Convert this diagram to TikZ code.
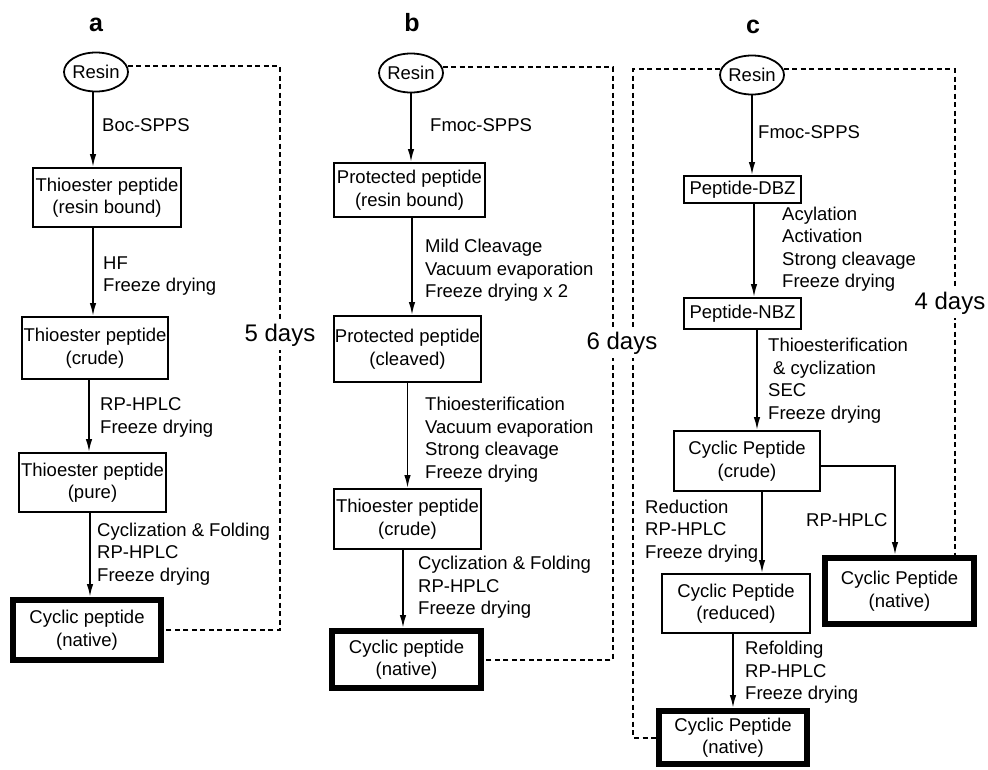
\documentclass[tikz,border=0pt]{standalone}
\usepackage{fontspec}
\setmainfont{Liberation Sans}
\usetikzlibrary{shapes.geometric, arrows.meta, positioning, calc}

\begin{document}
\begin{tikzpicture}[
    x=1pt, y=-1pt,
    font=\fontsize{18.5}{22.5}\selectfont,
    box/.style={rectangle, draw, line width=1.8pt, inner sep=0pt, align=center},
    endbox/.style={box, line width=6pt},
    resin/.style={ellipse, draw, line width=1.8pt, inner sep=0pt, minimum width=64pt, minimum height=39pt},
    note/.style={anchor=west, align=left, inner sep=0pt},
    panel/.style={font=\fontsize{25}{30}\selectfont\bfseries},
    days/.style={fill=white, inner sep=4pt, font=\fontsize{24}{28}\selectfont},
    flow/.style={-{Latex[length=13pt,width=6.5pt]}, line width=1.8pt},
    link/.style={line width=2pt, dash pattern=on 5pt off 3.5pt}
]
\useasboundingbox (0,0) rectangle (988,769);

% Panel a: Boc route
\node[panel] (labA) at (96,25) {a};
\node[resin] (resinA) at (96,72) {\makebox[30pt]{Resin}};
\node[box, minimum width=148pt, minimum height=59pt] (thioA) at (107,197.5) {Thioester peptide\\(resin bound)};
\node[box, minimum width=146pt, minimum height=62pt] (crudeA) at (95,348) {Thioester peptide\\(crude)};
\node[box, minimum width=147pt, minimum height=59pt] (pureA) at (92.5,482.5) {Thioester peptide\\(pure)};
\node[endbox, minimum width=148pt, minimum height=60pt] (nativeA) at (87,630) {Cyclic peptide\\(native)};

\node[note] (stepA1) at (102,125) {Boc-SPPS};
\node[note] (stepA2) at (103,276) {HF\\Freeze drying};
\node[note] (stepA3) at (100,417.5) {RP-HPLC\\Freeze drying};
\node[note] (stepA4) at (97,554) {Cyclization \& Folding\\RP-HPLC\\Freeze drying};

\draw[flow] ([xshift=-3pt]resinA.south) -- ([xshift=-3pt]resinA.south |- thioA.north);
\draw[flow] ([xshift=-2pt]thioA.south -| crudeA.north) -- ([xshift=-2pt]crudeA.north);
\draw[flow] ([xshift=-3.5pt]crudeA.south -| pureA.north) -- ([xshift=-3.5pt]pureA.north);
\draw[flow] ([xshift=3pt]pureA.south -| nativeA.north) -- ([xshift=3pt]nativeA.north);

\coordinate (cornA) at (280,630);
\draw[link] (resinA.10) -| (cornA) |- (nativeA.east);
\node[days] (daysA) at (280,335) {5 days};

% Panel b: Fmoc route
\node[panel] (labB) at (412,23) {b};
\node[resin] (resinB) at (411,73) {\makebox[30pt]{Resin}};
\node[box, minimum width=151pt, minimum height=54pt] (protB) at (409.5,190) {Protected peptide\\(resin bound)};
\node[box, minimum width=147pt, minimum height=66pt] (cleavB) at (407.5,349) {Protected peptide\\(cleaved)};
\node[box, minimum width=147pt, minimum height=60pt] (thioB) at (407.5,519) {Thioester peptide\\(crude)};
\node[endbox, minimum width=149pt, minimum height=57pt] (nativeB) at (406.5,659.5) {Cyclic peptide\\(native)};

\node[note] (stepB1) at (430,125) {Fmoc-SPPS};
\node[note] (stepB2) at (425,270.5) {Mild Cleavage\\Vacuum evaporation\\Freeze drying x 2};
\node[note] (stepB3) at (425,439.5) {Thioesterification\\Vacuum evaporation\\Strong cleavage\\Freeze drying};
\node[note] (stepB4) at (418,587.5) {Cyclization \& Folding\\RP-HPLC\\Freeze drying};

\draw[flow] (resinB) -- (resinB |- protB.north);
\draw[flow] ([xshift=4.5pt]protB.south -| cleavB.north) -- ([xshift=4.5pt]cleavB.north);
\draw[flow] (cleavB.south -| thioB.north) -- (thioB.north);
\draw[flow] ([xshift=-3.5pt]thioB.south -| nativeB.north) -- ([xshift=-3.5pt]nativeB.north);

\coordinate (cornB) at (613,600);
\draw[link] (resinB.10) -| (cornB) |- (nativeB.east);

% Panel c: Dbz route
\node[panel] (labC) at (753,27) {c};
\node[resin] (resinC) at (752,75) {\makebox[30pt]{Resin}};
\node[box, minimum width=117pt, minimum height=27pt] (dbzC) at (742.5,189.5) {Peptide-DBZ};
\node[box, minimum width=117pt, minimum height=31pt] (nbzC) at (742.5,313.5) {Peptide-NBZ};
\node[box, minimum width=146pt, minimum height=60pt] (crudeC) at (747,461) {Cyclic Peptide\\(crude)};
\node[box, minimum width=148pt, minimum height=59pt] (redC) at (736,603.5) {Cyclic Peptide\\(reduced)};
\node[endbox, minimum width=149pt, minimum height=66pt] (nativeC) at (899.5,591) {Cyclic Peptide\\(native)};
\node[endbox, minimum width=148pt, minimum height=53pt] (foldC) at (733,737.5) {Cyclic Peptide\\(native)};

\node[note] (stepC1) at (758,132) {Fmoc-SPPS};
\node[note] (stepC2) at (782,249) {Acylation\\Activation\\Strong cleavage\\Freeze drying};
\node[note] (stepC3) at (768,380.5) {Thioesterification\\\hspace*{5pt}\& cyclization\\SEC\\Freeze drying};
\node[note] (stepC4) at (645,531) {Reduction\\RP-HPLC\\Freeze drying};
\node[note] (stepC5) at (806,520) {RP-HPLC};
\node[note] (stepC6) at (745,672.5) {Refolding\\RP-HPLC\\Freeze drying};

\draw[flow] (resinC) -- (resinC |- dbzC.north);
\draw[flow] ([xshift=11.5pt]dbzC.south) -- ([xshift=11.5pt]nbzC.north);
\draw[flow] ([xshift=10pt]nbzC.south -| crudeC.north) -- ([xshift=10pt]crudeC.north);
\draw[flow] ([xshift=26pt]crudeC.south -| redC.north) -- ([xshift=26pt]redC.north);
\draw[flow] (redC.south -| foldC.north) -- (foldC.north);
\draw[flow] ([yshift=-5pt]crudeC.east) -| ([xshift=-4.5pt]nativeC.north);

\coordinate (cornC) at (633,400);
\coordinate (dropC) at (955,555);
\draw[link] (resinC.170) -| (cornC) |- (foldC.west);
\draw[link] (resinC.10) -| (dropC);

\node[days] (daysB) at (622,343) {6 days};
\node[days] (daysC) at (950,303) {4 days};

\end{tikzpicture}
\end{document}
